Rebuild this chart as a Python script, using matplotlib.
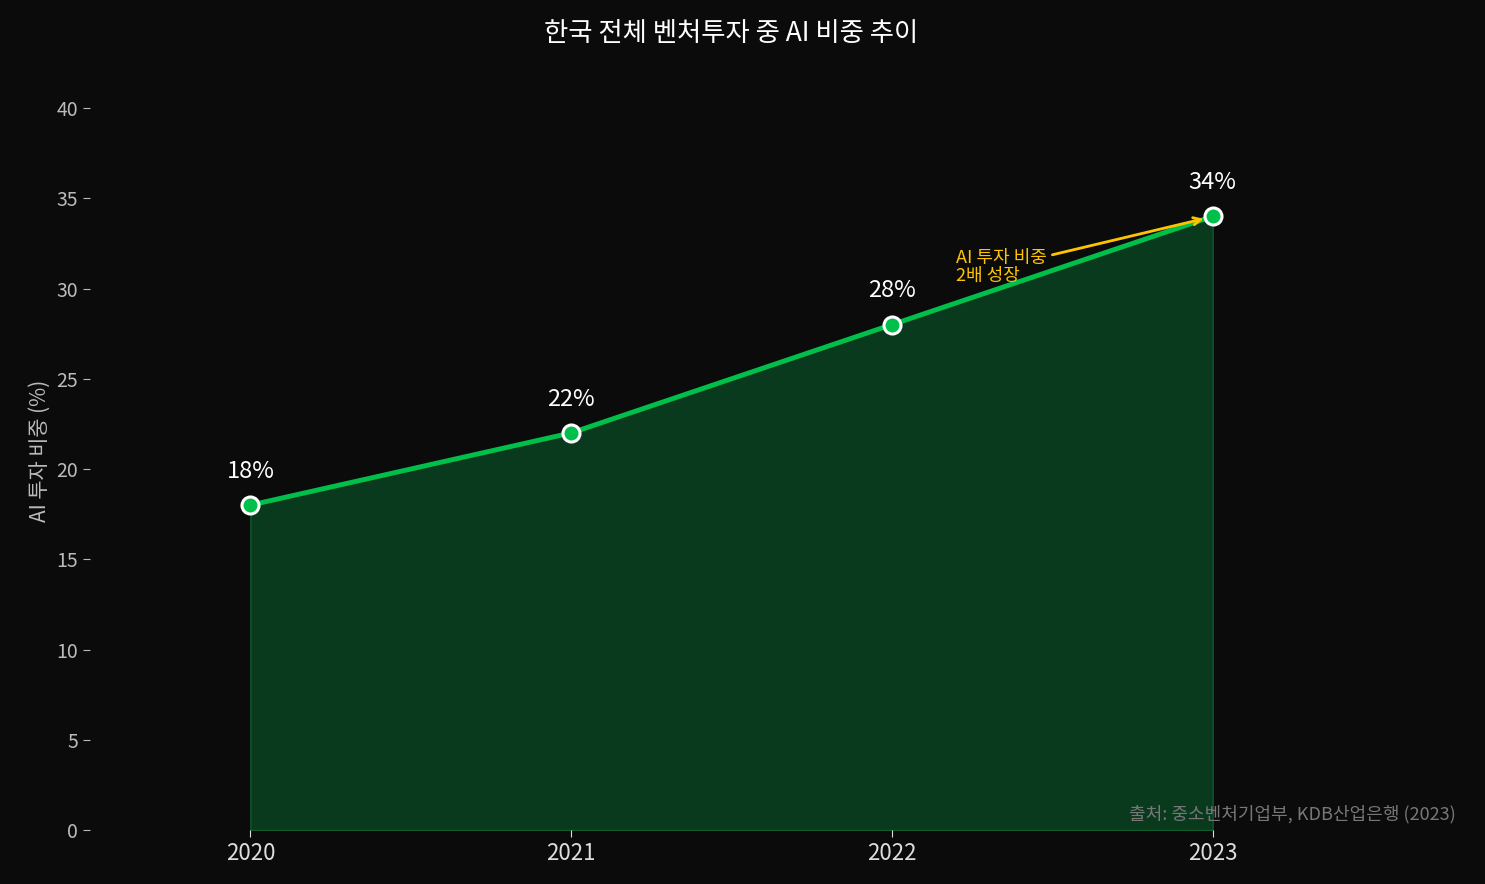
import matplotlib
matplotlib.use("Agg")
import matplotlib.pyplot as plt

plt.rcParams['font.family'] = ['Noto Sans CJK KR', 'DejaVu Sans']

years = [2020, 2021, 2022, 2023]
share = [18, 22, 28, 34]
labels = ["18%", "22%", "28%", "34%"]

bg = "#0b0b0b"
green = "#00c04b"
fig = plt.figure(figsize=(14.85, 8.84), dpi=100, facecolor=bg)
ax = fig.add_axes([0.0606, 0.0611, 0.864, 0.8575], facecolor=bg)

ax.fill_between(years, share, 0, color="#0a3a1e", alpha=1.0, edgecolor="#0f5a2a")
ax.plot(years, share, color=green, lw=3.5, zorder=3)
ax.scatter(years, share, s=150, color=green, edgecolor="white", linewidth=2.2, zorder=4)
for x, y, t in zip(years, share, labels):
    ax.annotate(t, (x, y), xytext=(0, 16), textcoords="offset points",
                ha="center", va="bottom", color="white", fontsize=17)

ax.annotate("AI 투자 비중\n2배 성장", xy=(2022.98, 33.9), xytext=(2022.2, 30.2),
            color="#ffc400", fontsize=13, ha="left", va="bottom",
            linespacing=1.0,
            arrowprops=dict(arrowstyle="->", color="#ffc400", lw=2))

ax.set_xlim(2019.5, 2023.5)
ax.set_ylim(0, 42)
ax.set_yticks(range(0, 41, 5))
ax.set_xticks(years)
ax.set_xticklabels([str(y) for y in years], fontsize=16, color="#dddddd")
ax.tick_params(axis='y', colors="#bbbbbb", labelsize=14, length=5)
ax.tick_params(axis='x', colors="#dddddd", length=5)
for s in ax.spines.values():
    s.set_visible(False)
ax.set_ylabel("AI 투자 비중 (%)", color="#bbbbbb", fontsize=15)
ax.set_title("한국 전체 벤처투자 중 AI 비중 추이", color="white", fontsize=19, pad=22)
fig.text(0.98, 0.068, "출처: 중소벤처기업부, KDB산업은행 (2023)", ha="right", va="bottom",
         color="#777777", fontsize=13)
fig.savefig("out.png", dpi=100, facecolor=bg)
